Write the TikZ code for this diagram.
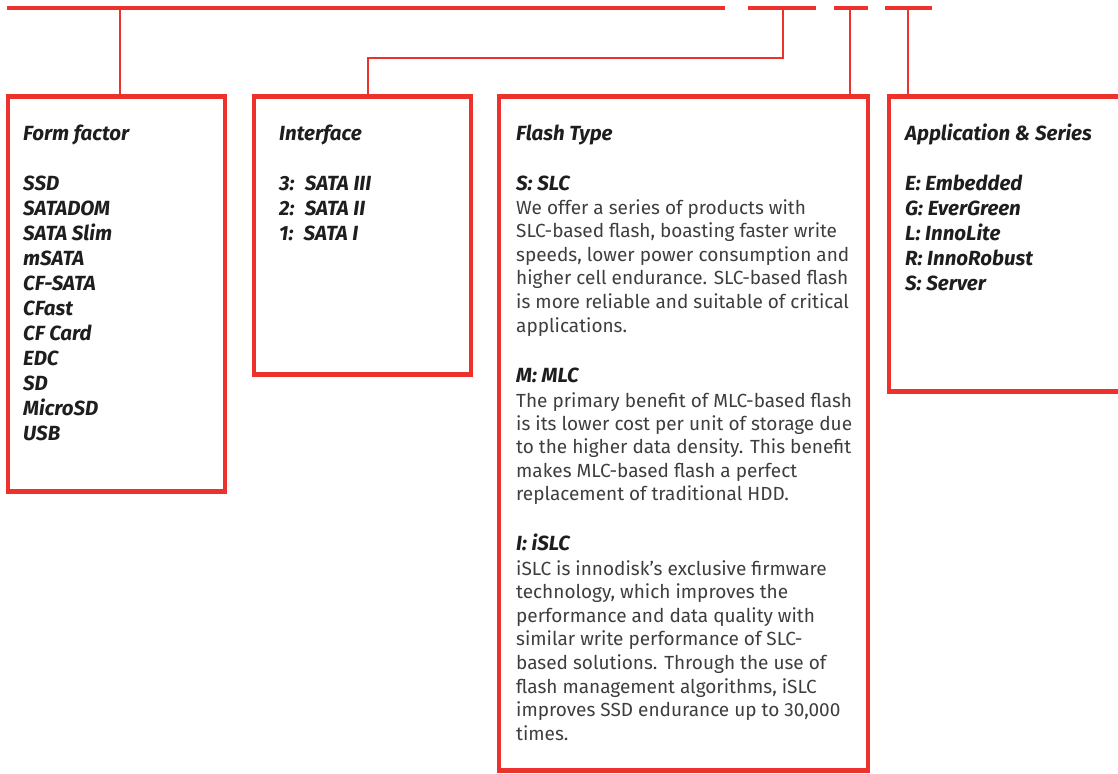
\documentclass[tikz,border=0pt]{standalone}
\usepackage{fontspec}
\setmainfont{Fira Sans}
\definecolor{innored}{RGB}{237,50,46}
\definecolor{bodygray}{RGB}{62,62,62}
\definecolor{headblack}{RGB}{30,30,30}
\tikzset{
    bar/.style={innored, line width=4pt},
    link/.style={innored, line width=1.4pt},
    panel/.style={draw=innored, line width=4.5pt, anchor=north west, inner sep=0pt, outer sep=0pt},
    head/.style={anchor=base west, inner sep=0pt, text=headblack, font=\fontsize{20.5}{25}\selectfont\bfseries\itshape},
    body/.style={anchor=base west, inner sep=0pt, text=bodygray, font=\fontsize{19}{24}\selectfont},
}
\begin{document}
\begin{tikzpicture}[x=1pt,y=-1pt]
    \useasboundingbox (0,0) rectangle (1118,773);
    \clip (0,0) rectangle (1118,773);
    % Code bar at the top
    \draw[bar] (7,8) -- (725,8);
    \draw[bar] (748,8) -- (816,8);
    \draw[bar] (834,8) -- (868,8);
    \draw[bar] (885,8) -- (932,8);
    % Panels
    \node[panel, minimum width=217pt, minimum height=395pt] (ffbox) at (8,96.5) {};
    \node[panel, minimum width=217pt, minimum height=278pt] (ifbox) at (254,96.5) {};
    \node[panel, minimum width=369pt, minimum height=674pt] (ftbox) at (499,96.5) {};
    \node[panel, minimum width=260pt, minimum height=295pt] (apbox) at (889,96.5) {};
    % Links from the code bar
    \coordinate (tapff) at (120,8);
    \draw[link] (tapff) -- (tapff |- ffbox.north);
    \coordinate (tapif) at (783,8);
    \coordinate (bendif) at (368,58);
    \draw[link] (tapif) |- (bendif) -- (bendif |- ifbox.north);
    \coordinate (tapft) at (850,8);
    \draw[link] (tapft) -- (tapft |- ftbox.north);
    \coordinate (tapap) at (908,8);
    \draw[link] (tapap) -- (tapap |- apbox.north);
    % Form factor
    \node[head] (ffhead) at (23,140) {Form factor};
    \foreach \t [count=\i] in {SSD, SATADOM, SATA Slim, mSATA, CF-SATA, CFast, CF Card, EDC, SD, MicroSD, USB}
        \node[head] (ff\i) at (23,{165+25*\i}) {\t};
    % Interface
    \node[head] (ifhead) at (279,140) {Interface};
    \foreach \t [count=\i] in {{3:\enspace SATA III}, {2:\enspace SATA II}, {1:\enspace SATA I}}
        \node[head] (if\i) at (279,{165+25*\i}) {\t};
    % Flash type
    \node[head] (fthead) at (516,140) {Flash Type};
    \node[head] (slchead) at (516,190) {S: SLC};
    \foreach \t [count=\i] in {{We offer a series of products with}, {SLC-based flash, boasting faster write}, {speeds, lower power consumption and}, {higher cell endurance. SLC-based flash}, {is more reliable and suitable of critical}, {applications.}}
        \node[body] (slc\i) at (516,{190.4+23.6*\i}) {\t};
    \node[head] (mlchead) at (516,382) {M: MLC};
    \foreach \t [count=\i] in {{The primary benefit of MLC-based flash}, {is its lower cost per unit of storage due}, {to the higher data density. This benefit}, {makes MLC-based flash a perfect}, {replacement of traditional HDD.}}
        \node[body] (mlc\i) at (516,{383.6+23.4*\i}) {\t};
    \node[head] (islchead) at (516,550) {I: iSLC};
    \foreach \t [count=\i] in {{iSLC is innodisk’s exclusive firmware}, {technology, which improves the}, {performance and data quality with}, {similar write performance of SLC-}, {based solutions. Through the use of}, {flash management algorithms, iSLC}, {improves SSD endurance up to 30,000}, {times.}}
        \node[body] (islc\i) at (516,{551.4+23.6*\i}) {\t};
    % Application and series
    \node[head] (aphead) at (905,140) {Application \& Series};
    \foreach \t [count=\i] in {E: Embedded, G: EverGreen, L: InnoLite, R: InnoRobust, S: Server}
        \node[head] (ap\i) at (905,{165+25*\i}) {\t};
\end{tikzpicture}
\end{document}
